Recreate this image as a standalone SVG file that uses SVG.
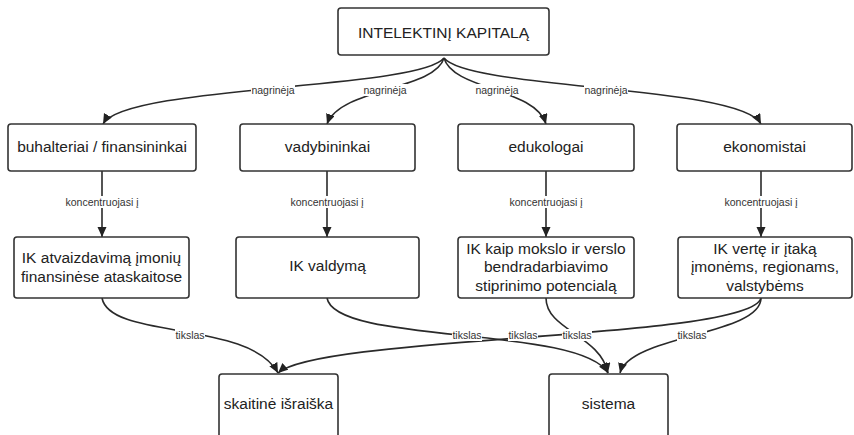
<svg xmlns="http://www.w3.org/2000/svg" width="854" height="435" viewBox="0 0 854 435">
<style>
.box{fill:#fff;stroke:#333;stroke-width:1.6}
.nt{font-family:"Liberation Sans",Arial,sans-serif;font-size:15.5px;fill:#222;text-anchor:middle}
.ln{fill:none;stroke:#2a2a2a;stroke-width:1.6;marker-end:url(#ah)}
.lb{font-family:"Liberation Sans",Arial,sans-serif;font-size:10.5px;fill:#333;text-anchor:middle}
.lbg{fill:#fff}
</style>
<defs>
<marker id="ah" markerUnits="userSpaceOnUse" markerWidth="11" markerHeight="10" refX="10" refY="4.5" orient="auto">
<path d="M0,0 L10,4.5 L0,9 z" fill="#222"/>
</marker>
</defs>
<rect width="854" height="435" fill="#fff"/>
<g id="connectors">
<path class="ln" d="M444,58 C418,90 125,85 103,124"/>
<path class="ln" d="M444,58 C435,90 340,88 327,124"/>
<path class="ln" d="M444,58 C453,90 535,88 546,124"/>
<path class="ln" d="M444,58 C470,90 740,85 761,124"/>
<path class="ln" d="M102,171 L102,237"/>
<path class="ln" d="M327,171 L327,237"/>
<path class="ln" d="M546,171 L546,237"/>
<path class="ln" d="M761,171 L761,237"/>
<path class="ln" d="M102,298 C110,340 250,320 278,373"/>
<path class="ln" d="M327,298 C335,345 580,325 608,373"/>
<path class="ln" d="M761,298 C750,340 320,335 278,373"/>
<path class="ln" d="M546,298 C546,330 600,335 608,373"/>
<path class="ln" d="M761,298 C761,335 630,335 620,373"/>
<g id="labels">
<rect class="lbg" x="251" y="84" width="44" height="12"/><text class="lb" x="273" y="93.5">nagrinėja</text>
<rect class="lbg" x="363" y="84" width="44" height="12"/><text class="lb" x="385" y="93.5">nagrinėja</text>
<rect class="lbg" x="475" y="84" width="44" height="12"/><text class="lb" x="497" y="93.5">nagrinėja</text>
<rect class="lbg" x="584" y="84" width="44" height="12"/><text class="lb" x="606" y="93.5">nagrinėja</text>
<rect class="lbg" x="65" y="196" width="74" height="12"/><text class="lb" x="102" y="205.5">koncentruojasi į</text>
<rect class="lbg" x="290" y="196" width="74" height="12"/><text class="lb" x="327" y="205.5">koncentruojasi į</text>
<rect class="lbg" x="509" y="196" width="74" height="12"/><text class="lb" x="546" y="205.5">koncentruojasi į</text>
<rect class="lbg" x="724" y="196" width="74" height="12"/><text class="lb" x="761" y="205.5">koncentruojasi į</text>
<rect class="lbg" x="175" y="329" width="30" height="12"/><text class="lb" x="190" y="338.5">tikslas</text>
<rect class="lbg" x="452" y="329" width="30" height="12"/><text class="lb" x="467" y="338.5">tikslas</text>
<rect class="lbg" x="508" y="329" width="30" height="12"/><text class="lb" x="523" y="338.5">tikslas</text>
<rect class="lbg" x="562" y="329" width="30" height="12"/><text class="lb" x="577" y="338.5">tikslas</text>
<rect class="lbg" x="677" y="329" width="30" height="12"/><text class="lb" x="692" y="338.5">tikslas</text>
</g>
</g>
<g id="n-top"><rect class="box" x="338" y="8" width="211" height="47" rx="3"/><text class="nt" x="443.5" y="38">INTELEKTINĮ KAPITALĄ</text></g>
<g id="n-buh"><rect class="box" x="8" y="124" width="188" height="47" rx="3"/><text class="nt" x="102" y="151.5">buhalteriai / finansininkai</text></g>
<g id="n-vad"><rect class="box" x="240" y="124" width="175" height="47" rx="3"/><text class="nt" x="327.5" y="151.5">vadybininkai</text></g>
<g id="n-edu"><rect class="box" x="458" y="124" width="176" height="47" rx="3"/><text class="nt" x="546" y="151.5">edukologai</text></g>
<g id="n-eko"><rect class="box" x="677" y="124" width="175" height="47" rx="3"/><text class="nt" x="764.5" y="151.5">ekonomistai</text></g>
<g id="n-ik1"><rect class="box" x="14" y="237" width="175" height="61" rx="3"/><text class="nt" x="101.5" y="262.5">IK atvaizdavimą įmonių</text><text class="nt" x="101.5" y="281.5">finansinėse ataskaitose</text></g>
<g id="n-ik2"><rect class="box" x="236" y="237" width="183" height="61" rx="3"/><text class="nt" x="327.5" y="271">IK valdymą</text></g>
<g id="n-ik3"><rect class="box" x="458" y="237" width="176" height="61" rx="3"/><text class="nt" x="546" y="253.5">IK kaip mokslo ir verslo</text><text class="nt" x="546" y="272">bendradarbiavimo</text><text class="nt" x="546" y="290.5">stiprinimo potencialą</text></g>
<g id="n-ik4"><rect class="box" x="678" y="237" width="174" height="61" rx="3"/><text class="nt" x="765" y="253.5">IK vertę ir įtaką</text><text class="nt" x="765" y="272">įmonėms, regionams,</text><text class="nt" x="765" y="290.5">valstybėms</text></g>
<g id="n-ska"><rect class="box" x="219" y="374" width="119" height="80" rx="3"/><text class="nt" x="278.5" y="408.5">skaitinė išraiška</text></g>
<g id="n-sis"><rect class="box" x="549" y="374" width="119" height="80" rx="3"/><text class="nt" x="608.5" y="408.5">sistema</text></g>
</svg>
